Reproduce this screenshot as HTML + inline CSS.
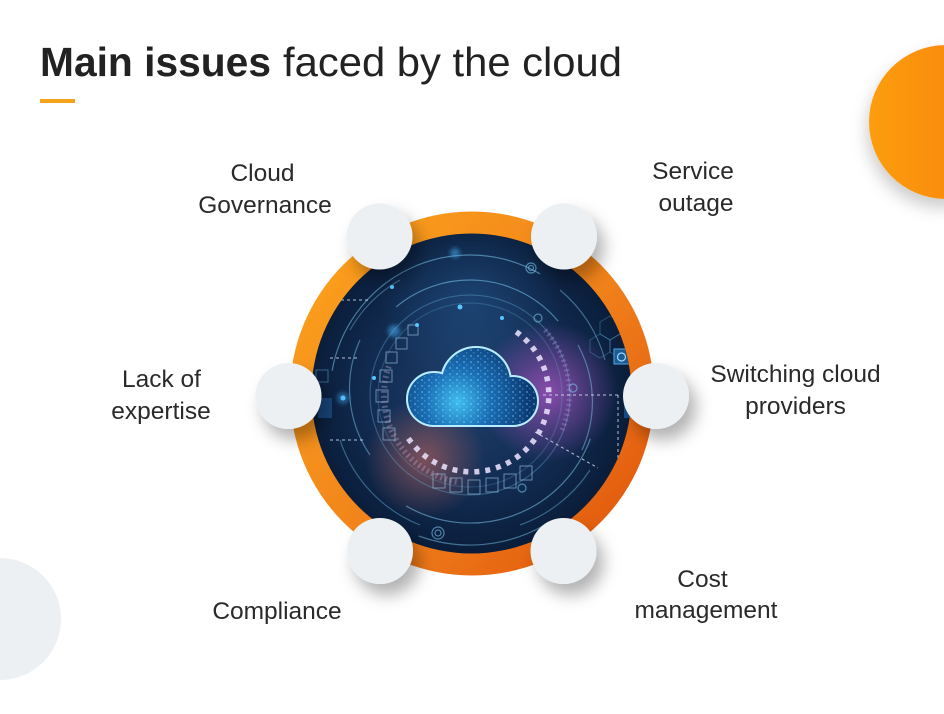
<!DOCTYPE html>
<html><head><meta charset="utf-8"><style>
html,body{margin:0;padding:0;background:#fff;}
svg{display:block;}
text{font-family:"Liberation Sans",Arial,sans-serif;}
</style></head><body>
<svg width="944" height="714" viewBox="0 0 944 714" xmlns="http://www.w3.org/2000/svg">
<defs>
  <linearGradient id="ring" x1="0.15" y1="0.15" x2="0.95" y2="0.85">
    <stop offset="0" stop-color="#fa9c1c"/>
    <stop offset="0.55" stop-color="#f0801a"/>
    <stop offset="1" stop-color="#e2590e"/>
  </linearGradient>
  <linearGradient id="deco" x1="0" y1="0" x2="1" y2="0">
    <stop offset="0" stop-color="#fd9d10"/>
    <stop offset="1" stop-color="#f67c08"/>
  </linearGradient>
  <radialGradient id="inner" cx="470" cy="392" r="162" gradientUnits="userSpaceOnUse">
    <stop offset="0" stop-color="#1e3e6a"/>
    <stop offset="0.55" stop-color="#132e55"/>
    <stop offset="1" stop-color="#0a1d3a"/>
  </radialGradient>
  <radialGradient id="purple" cx="548" cy="392" r="70" gradientUnits="userSpaceOnUse">
    <stop offset="0" stop-color="#b056c8" stop-opacity="0.75"/>
    <stop offset="1" stop-color="#b056c8" stop-opacity="0"/>
  </radialGradient>
  <radialGradient id="red" cx="425" cy="458" r="60" gradientUnits="userSpaceOnUse">
    <stop offset="0" stop-color="#c2665e" stop-opacity="0.6"/>
    <stop offset="1" stop-color="#c2665e" stop-opacity="0"/>
  </radialGradient>
  <radialGradient id="blueglow" cx="470" cy="300" r="90" gradientUnits="userSpaceOnUse">
    <stop offset="0" stop-color="#2c6aa8" stop-opacity="0.35"/>
    <stop offset="1" stop-color="#2c6aa8" stop-opacity="0"/>
  </radialGradient>
  <radialGradient id="cloudfill" cx="458" cy="402" r="72" gradientUnits="userSpaceOnUse">
    <stop offset="0" stop-color="#3fbdf0"/>
    <stop offset="0.45" stop-color="#1a6fb6"/>
    <stop offset="1" stop-color="#0b3a74"/>
  </radialGradient>
  <pattern id="dots" width="7" height="6" patternUnits="userSpaceOnUse">
    <rect x="1" y="1" width="2" height="2" fill="#a8ecff"/>
    <rect x="4" y="4" width="1.5" height="1.5" fill="#7fd6ff"/>
  </pattern>
  <clipPath id="innerclip"><circle cx="471.5" cy="393.5" r="160"/></clipPath>
  <filter id="sh" x="-60%" y="-60%" width="220%" height="220%">
    <feDropShadow dx="7" dy="11" stdDeviation="8" flood-color="#000" flood-opacity="0.3"/>
  </filter>
  <filter id="sh2" x="-50%" y="-50%" width="200%" height="200%">
    <feDropShadow dx="-2" dy="9" stdDeviation="8" flood-color="#000" flood-opacity="0.2"/>
  </filter>
  <filter id="glow" x="-50%" y="-50%" width="200%" height="200%">
    <feGaussianBlur stdDeviation="2"/>
  </filter>
</defs>

<!-- decorative circles -->
<circle cx="946" cy="122" r="77" fill="url(#deco)" filter="url(#sh2)"/>
<circle cx="0" cy="619" r="61" fill="#edf0f3"/>

<!-- title -->
<text x="40" y="76" font-size="41" font-weight="bold" fill="#222" textLength="231" lengthAdjust="spacingAndGlyphs">Main issues</text>
<text x="283" y="76" font-size="41" fill="#222" textLength="339" lengthAdjust="spacingAndGlyphs">faced by the cloud</text>
<rect x="40" y="99" width="35" height="4" fill="#f5a31a"/>

<!-- ring -->
<circle cx="472" cy="393.5" r="182" fill="url(#ring)"/>

<!-- inner tech circle -->
<g clip-path="url(#innerclip)">
  <rect x="300" y="220" width="340" height="350" fill="url(#inner)"/>
  <rect x="300" y="220" width="340" height="350" fill="url(#blueglow)"/>
  <rect x="300" y="220" width="340" height="350" fill="url(#purple)"/>
  <rect x="300" y="220" width="340" height="350" fill="url(#red)"/>

  <g fill="none" stroke="#7cc6ec" stroke-width="1.2">
    <circle cx="470" cy="395" r="100" stroke-opacity="0.3"/>
    <circle cx="470" cy="395" r="92" stroke-opacity="0.2"/>
    <path d="M332.1,370.7 A140,140 0 0 1 540,273.8" stroke-opacity="0.55"/>
    <path d="M590.3,438.8 A128,128 0 0 1 406,505.9" stroke-opacity="0.55"/>
    <path d="M545,524.9 A150,150 0 0 1 418.7,536" stroke-opacity="0.5"/>
    <path d="M396.1,306.9 A115,115 0 0 1 558.1,321.1" stroke-opacity="0.55"/>
    <path d="M340,440 A138,138 0 0 0 420,525" stroke-opacity="0.4"/>
    <path d="M560,290 A138,138 0 0 1 605,360" stroke-opacity="0.45"/>
    <path d="M590,470 A140,140 0 0 1 520,525" stroke-opacity="0.4"/>
    <path d="M350,330 A135,135 0 0 1 400,280" stroke-opacity="0.4"/>
    <path d="M370,455 A118,118 0 0 1 360,340" stroke-opacity="0.5"/>
    <path d="M578,345 A118,118 0 0 1 582,450" stroke-opacity="0.5"/>
    <circle cx="531" cy="268" r="5" stroke-opacity="0.6"/>
    <circle cx="531" cy="268" r="2.5" stroke-opacity="0.6"/>
    <circle cx="438" cy="533" r="6" stroke-opacity="0.6"/>
    <circle cx="438" cy="533" r="3" stroke-opacity="0.6"/>
    <circle cx="538" cy="318" r="4" stroke-opacity="0.6"/>
    <circle cx="573" cy="388" r="4" stroke-opacity="0.6"/>
    <circle cx="522" cy="488" r="4" stroke-opacity="0.6"/>
  </g>

  <!-- hexagons -->
  <g fill="none" stroke="#5fa9d6" stroke-opacity="0.35" stroke-width="1">
    <polygon points="600,322 610,316 620,322 620,334 610,340 600,334"/>
    <polygon points="620,322 630,316 640,322 640,334 630,340 620,334"/>
    <polygon points="610,340 620,334 630,340 630,352 620,358 610,352"/>
    <polygon points="590,340 600,334 610,340 610,352 600,358 590,352"/>
  </g>
  <!-- power icon -->
  <rect x="614" y="349" width="15" height="15" fill="#1c5a92" stroke="#4fa7e0" stroke-width="1"/>
  <circle cx="621.5" cy="357" r="4" fill="none" stroke="#9fd8ff" stroke-width="1.2"/>
  <!-- lock / left blocks -->
  <rect x="316" y="370" width="12" height="12" fill="none" stroke="#5fa9d6" stroke-opacity="0.5"/>
  <rect x="318" y="398" width="14" height="20" fill="#1d4f8a" opacity="0.8"/>
  <rect x="624" y="400" width="10" height="18" fill="#1d5aa0" opacity="0.8"/>

  <!-- boxes left -->
  <g fill="none" stroke="#a9d7f2" stroke-opacity="0.55" stroke-width="1">
    <rect x="408" y="325" width="10" height="10"/>
    <rect x="396" y="338" width="11" height="11"/>
    <rect x="386" y="352" width="11" height="11"/>
    <rect x="380" y="370" width="12" height="12"/>
    <rect x="376" y="390" width="12" height="12"/>
    <rect x="378" y="410" width="12" height="12"/>
    <rect x="383" y="428" width="12" height="12"/>
    <rect x="450" y="478" width="12" height="14"/>
    <rect x="468" y="480" width="12" height="14"/>
    <rect x="486" y="478" width="12" height="14"/>
    <rect x="504" y="474" width="12" height="14"/>
    <rect x="520" y="466" width="12" height="14"/>
    <rect x="433" y="474" width="12" height="14"/>
  </g>

  <!-- dashed lines -->
  <g fill="none" stroke="#dfe8ff" stroke-opacity="0.8" stroke-width="1" stroke-dasharray="3 3">
    <line x1="543" y1="395" x2="618" y2="395"/>
    <line x1="618" y1="395" x2="618" y2="460"/>
    <line x1="535" y1="432" x2="598" y2="468"/>
    <line x1="330" y1="358" x2="360" y2="358"/>
    <line x1="330" y1="440" x2="365" y2="440"/>
    <line x1="335" y1="300" x2="370" y2="300"/>
  </g>

  <!-- square dots arc -->
  <path d="M516.2,331.9 A77,77 0 1 1 407.4,437.0" fill="none" stroke="#e3dcf7" stroke-width="5.5" stroke-dasharray="5 6" stroke-opacity="0.9"/>
  <path d="M456.7,481.7 A88,88 0 0 1 389.3,364.9" fill="none" stroke="#c9b0d8" stroke-width="6" stroke-dasharray="2 3" stroke-opacity="0.35"/>
  <path d="M545,330 A95,95 0 0 1 562,430" fill="none" stroke="#b89ad8" stroke-width="5" stroke-dasharray="2 3" stroke-opacity="0.35"/>

  <!-- glowing dots -->
  <g fill="#59c6ff">
    <circle cx="460" cy="307" r="2.5"/>
    <circle cx="502" cy="318" r="2"/>
    <circle cx="417" cy="325" r="2"/>
    <circle cx="374" cy="378" r="2"/>
    <circle cx="343" cy="398" r="2.5"/>
    <circle cx="392" cy="287" r="2"/>
  </g>
  <circle cx="394" cy="331" r="6" fill="#4db8ff" opacity="0.5" filter="url(#glow)"/>
  <circle cx="455" cy="253" r="5" fill="#4db8ff" opacity="0.5" filter="url(#glow)"/>
  <circle cx="343" cy="398" r="6" fill="#4db8ff" opacity="0.4" filter="url(#glow)"/>
</g>

<!-- cloud -->
<g fill="#b8ecff" stroke="#b8ecff" stroke-width="4">
  <circle cx="434" cy="399" r="26"/>
  <circle cx="476" cy="382" r="34"/>
  <circle cx="513" cy="401" r="24"/>
  <rect x="434" y="395" width="79" height="30"/>
</g>
<g fill="url(#cloudfill)">
  <circle cx="434" cy="399" r="26"/>
  <circle cx="476" cy="382" r="34"/>
  <circle cx="513" cy="401" r="24"/>
  <rect x="434" y="395" width="79" height="30"/>
</g>
<g fill="url(#dots)" opacity="0.3">
  <circle cx="434" cy="399" r="25"/>
  <circle cx="476" cy="382" r="33"/>
  <circle cx="513" cy="401" r="23"/>
  <rect x="434" y="396" width="79" height="28"/>
</g>

<!-- node circles -->
<g fill="#edf0f3" filter="url(#sh)">
  <circle cx="379.5" cy="236.5" r="33"/>
  <circle cx="564" cy="236.5" r="33"/>
  <circle cx="288.5" cy="396" r="33"/>
  <circle cx="656" cy="396" r="33"/>
  <circle cx="380" cy="551" r="33"/>
  <circle cx="563.5" cy="551" r="33"/>
</g>

<!-- labels -->
<g font-size="24.5" fill="#2a2a2a" text-anchor="middle">
  <text x="262.5" y="181">Cloud</text>
  <text x="265" y="213">Governance</text>
  <text x="693" y="179">Service</text>
  <text x="696" y="211">outage</text>
  <text x="161.5" y="387">Lack of</text>
  <text x="161" y="419">expertise</text>
  <text x="795.5" y="382">Switching cloud</text>
  <text x="795.5" y="414">providers</text>
  <text x="277" y="619">Compliance</text>
  <text x="702.5" y="587">Cost</text>
  <text x="706" y="618">management</text>
</g>
</svg>
</body></html>
